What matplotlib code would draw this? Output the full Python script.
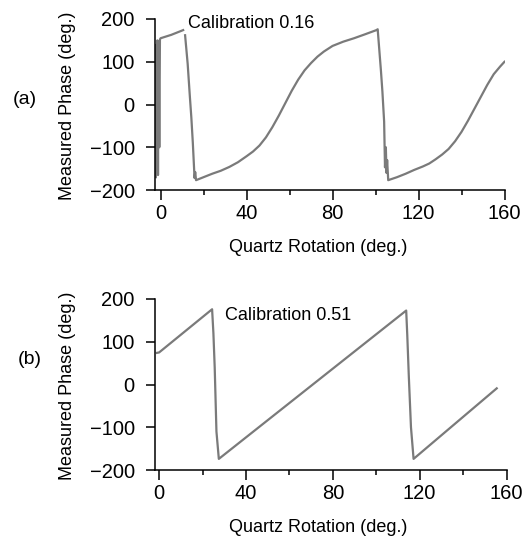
import numpy as np
import matplotlib.pyplot as plt
from matplotlib.ticker import MultipleLocator

plt.rcParams['font.family'] = ['Liberation Sans', 'DejaVu Sans']

# (a) calibration 0.16, nan = gap in trace
xa = [-2.2, -2.0, -1.8, -1.5, -1.2, -0.9, -0.6, -0.3, 0.0, 5.0, 10.5, np.nan,
      11.4, 12.6, 13.6, 14.3, 15.0, 15.8, 16.1, 16.5,
      20, 24, 28, 32, 36, 40, 43, 46, 49, 52, 55, 58, 61, 64, 67, 70, 73, 76,
      80, 85, 90, 95, 100.4,
      101.0, 102.5, 103.2, 104.0, 104.4, 104.8, 105.1, 105.4, 105.9,
      110, 114, 118, 122, 125, 128, 131, 134, 137, 140, 143, 146, 149, 152,
      155, 158, 160]
ya = [-170, 140, -120, 150, -165, 148, -100, 152, 155, 163, 174, np.nan,
      162, 95, 20, -30, -90, -172, -158, -177,
      -170, -162, -155, -146, -135, -121, -110, -96, -77, -53, -26, 3, 32,
      58, 80, 97, 112, 124, 137, 147, 155, 164, 174,
      176, 80, 30, -40, -147, -100, -160, -130, -177,
      -170, -162, -153, -145, -138, -128, -117, -104, -86, -64, -38, -10, 18,
      46, 71, 89, 100]

# (b) calibration 0.51
xb = [-1.0, 0.0, 24.4, 25.0, 25.6, 26.4, 27.5, 113.8, 114.3, 115.0,
      116.0, 117.2, 155.5]
yb = [74, 75, 176, 120, 40, -110, -174, 173, 115, 20, -100, -174, -9]

gray = '#7a7a7a'

fig = plt.figure(figsize=(5.3, 5.39), dpi=100)
ax1 = fig.add_axes([155/530, 1-190/539, 349.5/530, 171/539])
ax2 = fig.add_axes([155/530, 1-470/539, 351.5/530, 171/539])

ax1.plot(xa, ya, color=gray, lw=1.6)
ax2.plot(xb, yb, color=gray, lw=1.6)

ax1.set_xlim(-2.6, 160)
ax2.set_xlim(-1.9, 160)

for ax in [ax1, ax2]:
    ax.set_ylim(-200, 200)
    ax.set_yticks([-200, -100, 0, 100, 200])
    ax.set_xticks([0, 40, 80, 120, 160])
    ax.xaxis.set_minor_locator(MultipleLocator(20))
    ax.spines['top'].set_visible(False)
    ax.spines['right'].set_visible(False)
    ax.spines['left'].set_linewidth(1.1)
    ax.spines['bottom'].set_linewidth(1.1)
    ax.tick_params(axis='y', direction='out', length=6.5, width=1.1,
                   labelsize=14.5, pad=8)
    ax.tick_params(axis='x', which='major', direction='out', length=7,
                   width=1.1, labelsize=14.5, pad=3)
    ax.tick_params(axis='x', which='minor', direction='out', length=3.6,
                   width=1.1)

ax1.text(188/530, 1-24/539, 'Calibration 0.16', transform=fig.transFigure,
         fontsize=13, va='center')
ax2.text(225/530, 1-315/539, 'Calibration 0.51', transform=fig.transFigure,
         fontsize=13, va='center')

fig.text(318.5/530, 1-248/539, 'Quartz Rotation (deg.)', fontsize=13,
         ha='center', va='center')
fig.text(318.5/530, 1-528/539, 'Quartz Rotation (deg.)', fontsize=13,
         ha='center', va='center')
fig.text(68/530, 1-106/539, 'Measured Phase (deg.)', fontsize=13,
         ha='center', va='center', rotation=90)
fig.text(68/530, 1-386/539, 'Measured Phase (deg.)', fontsize=13,
         ha='center', va='center', rotation=90)

fig.text(25/530, 1-99/539, '(a)', fontsize=14, ha='center', va='center')
fig.text(30/530, 1-360/539, '(b)', fontsize=14, ha='center', va='center')

plt.savefig('out.png', dpi=100)
